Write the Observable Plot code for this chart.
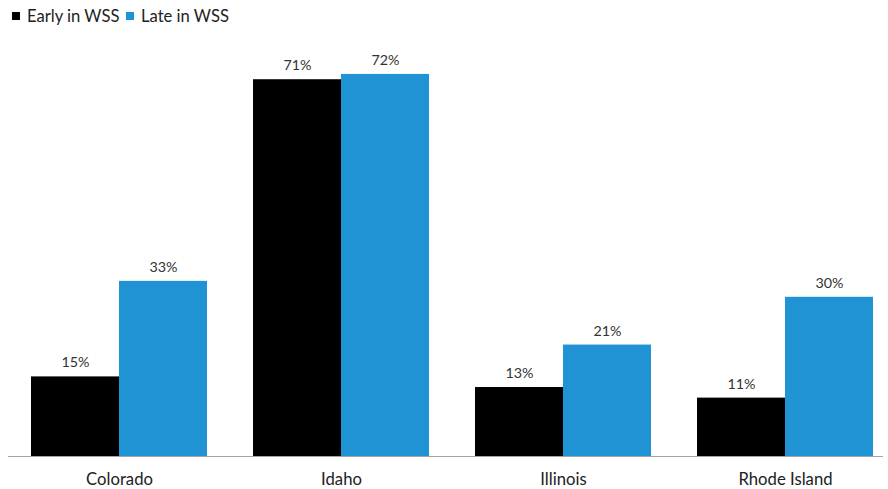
<!DOCTYPE html>
<html>
<head>
<meta charset="utf-8">
<script src="https://cdn.jsdelivr.net/npm/d3@7"></script>
<script src="https://cdn.jsdelivr.net/npm/@observablehq/plot@0.6"></script>
<style>
  html, body { margin: 0; padding: 0; background: #fff; }
  body { width: 888px; height: 489px; overflow: hidden; font-family: Lato, "Open Sans", sans-serif; }
  #legend { position: relative; height: 34px; font-size: 16.6px; color: #222; }
  #legend .item { position: absolute; top: 0; height: 31px; display: flex; align-items: center; white-space: nowrap; }
  #legend .sw { width: 8px; height: 8px; margin-right: 7px; display: inline-block; }
</style>
</head>
<body>
<div id="legend"></div>
<div id="chart"></div>
<script>
const states = ["Colorado", "Idaho", "Illinois", "Rhode Island"];
const series = ["Early in WSS", "Late in WSS"];
const early = [15, 71, 13, 11];
const late = [33, 72, 21, 30];
const colors = ["#000000", "#1f93d3"];

const data = [];
states.forEach((s, i) => {
  data.push({state: s, series: series[0], value: early[i]});
  data.push({state: s, series: series[1], value: late[i]});
});

// legend
const legend = document.getElementById("legend");
const legendX = [12, 126];
series.forEach((name, i) => {
  const item = document.createElement("div");
  item.className = "item";
  item.style.left = legendX[i] + "px";
  const sw = document.createElement("span");
  sw.className = "sw";
  sw.style.background = colors[i];
  const t = document.createElement("span");
  t.textContent = name;
  item.appendChild(sw);
  item.appendChild(t);
  legend.appendChild(item);
});

const chart = Plot.plot({
  width: 883,
  height: 455,
  marginTop: 24,
  marginBottom: 33,
  marginLeft: 0,
  marginRight: 0,
  style: {fontFamily: "Lato, 'Open Sans', sans-serif", fontSize: "16.7px", color: "#222", background: "#fff"},
  fx: {domain: states, range: [8, 896], paddingInner: 0.2072, paddingOuter: 0.1036, axis: "bottom", tickSize: 0, tickPadding: 17, label: null},
  x: {domain: series, padding: 0, axis: null},
  y: {domain: [0, 75], axis: null},
  color: {domain: series, range: colors},
  marks: [
    Plot.barY(data, {fx: "state", x: "series", y: "value", fill: "series"}),
    Plot.ruleY([0], {stroke: "#a6a6a6", strokeWidth: 1.2, insetLeft: -23, insetRight: -23}),
    Plot.text(data, {fx: "state", x: "series", y: "value", text: d => d.value + "%", dy: -14, fontSize: 14.3, fill: "#333"})
  ]
});
document.getElementById("chart").appendChild(chart);
</script>
</body>
</html>
